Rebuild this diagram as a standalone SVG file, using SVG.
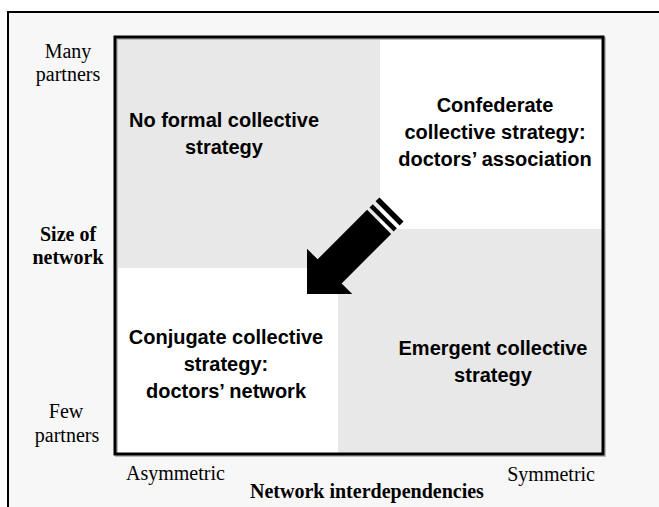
<svg xmlns="http://www.w3.org/2000/svg" width="659" height="507" viewBox="0 0 659 507">
  <style>
    .axis { font-family: "Liberation Serif", "Times New Roman", serif; font-size: 20px; fill: #000; }
    .axis-b { font-family: "Liberation Serif", "Times New Roman", serif; font-size: 20px; font-weight: bold; fill: #000; }
    .cell { font-family: "Liberation Sans", Arial, sans-serif; font-size: 20px; font-weight: bold; fill: #000; text-anchor: middle; }
    .shade { fill: #e8e8e8; }
    .blank { fill: #ffffff; }
  </style>

  <!-- page background and outer frame -->
  <rect x="0" y="0" width="659" height="507" fill="#ffffff"/>
  <rect x="8" y="12" width="700" height="560" fill="#f7f7f7" stroke="#000" stroke-width="2"/>

  <!-- quadrants -->
  <g id="q-no-formal">
    <rect class="shade" x="115" y="37" width="265" height="231"/>
    <text class="cell" x="224" y="127">No formal collective</text>
    <text class="cell" x="224" y="154">strategy</text>
  </g>
  <g id="q-confederate">
    <rect class="blank" x="380" y="37" width="223" height="192"/>
    <text class="cell" x="495" y="112">Confederate</text>
    <text class="cell" x="495" y="139">collective strategy:</text>
    <text class="cell" x="495" y="166">doctors’ association</text>
  </g>
  <g id="q-emergent">
    <rect class="shade" x="338" y="229" width="265" height="225"/>
    <text class="cell" x="493" y="355">Emergent collective</text>
    <text class="cell" x="493" y="382">strategy</text>
  </g>
  <g id="q-conjugate">
    <rect class="blank" x="115" y="268" width="223" height="186"/>
    <text class="cell" x="226" y="344">Conjugate collective</text>
    <text class="cell" x="226" y="371">strategy:</text>
    <text class="cell" x="226" y="398">doctors’ network</text>
  </g>

  <!-- matrix border -->
  <rect x="116.5" y="38.5" width="488" height="417" fill="none" stroke="#bbb" stroke-width="3"/>
  <rect x="115" y="37" width="488" height="417" fill="none" stroke="#000" stroke-width="3"/>

  <!-- shift arrow -->
  <g id="connectors">
    <g transform="translate(307,294) rotate(-45)" fill="#000">
      <polygon points="0,0 32,-32 32,-17 102,-17 102,17 32,17 32,32"/>
      <rect x="105.5" y="-17" width="4.5" height="34"/>
      <rect x="114" y="-17" width="5.5" height="34"/>
    </g>
  </g>

  <!-- axis labels -->
  <g id="y-axis" class="axis" text-anchor="middle">
    <text x="68" y="58">Many</text>
    <text x="68" y="81">partners</text>
    <text class="axis-b" x="68" y="241">Size of</text>
    <text class="axis-b" x="68" y="264">network</text>
    <text x="66" y="418">Few</text>
    <text x="67" y="442">partners</text>
  </g>
  <g id="x-axis">
    <text class="axis" x="126" y="480">Asymmetric</text>
    <text class="axis" x="595" y="481" text-anchor="end">Symmetric</text>
    <text class="axis-b" x="250" y="498">Network interdependencies</text>
  </g>
</svg>
